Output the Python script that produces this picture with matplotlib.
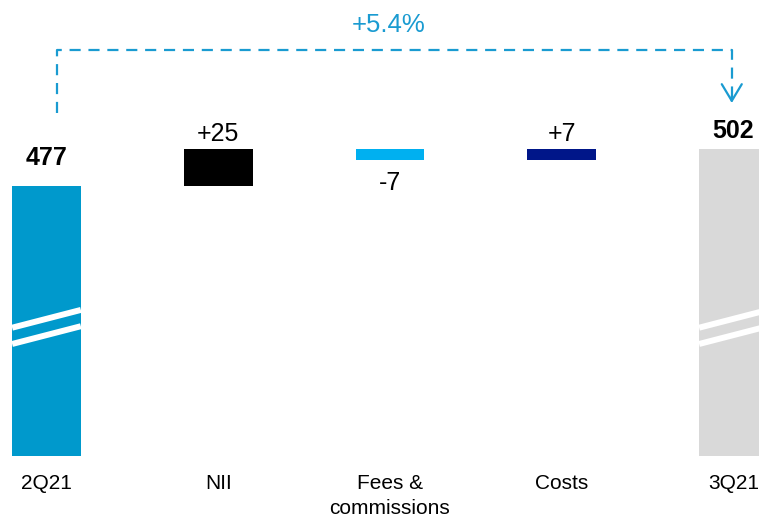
import matplotlib
matplotlib.use("Agg")
import matplotlib.pyplot as plt

plt.rcParams['font.family'] = ['Liberation Sans', 'DejaVu Sans']

# data
categories = ['2Q21', 'NII', 'Fees &\ncommissions', 'Costs', '3Q21']
start_value = 477
changes = [25, -7, 7]
end_value = 502
value_labels = ['477', '+25', '-7', '+7', '502']
growth_label = '+5.4%'

colors = ['#0099CC', '#000000', '#00B0F0', '#001689', '#D9D9D9']
accent = '#1A9BD1'
base = 295  # axis is broken, bars start here

# build waterfall bottoms / heights
bottoms = [base]
heights = [start_value - base]
level = start_value
for c in changes:
    bottoms.append(level)
    heights.append(c)
    level += c
bottoms.append(base)
heights.append(end_value - base)

x = list(range(len(categories)))
width = 0.4

fig = plt.figure(figsize=(7.59, 5.17), dpi=100)
ax = fig.add_axes([0, 0, 1, 1])
ax.bar(x, heights, bottom=bottoms, width=width, color=colors, edgecolor='none')

# break marks on the total bars
brk_mid, brk_rise, brk_gap = 382, 12, 11
for i in (0, len(x) - 1):
    for off in (brk_gap / 2, -brk_gap / 2):
        y0 = brk_mid + off - brk_rise / 2
        ax.plot([x[i] - width / 2, x[i] + width / 2], [y0, y0 + brk_rise],
                color='white', lw=4.3, solid_capstyle='butt')

# value labels
offsets = [15.5, 6, -21.5, 6, 8]
weights = ['bold', 'normal', 'normal', 'normal', 'bold']
for i, lab in enumerate(value_labels):
    top = bottoms[i] + heights[i]
    anchor = min(bottoms[i], top) if heights[i] < 0 else max(bottoms[i], top)
    ax.annotate(lab, (x[i], anchor), xytext=(0, offsets[i]), textcoords='offset points',
                ha='center', va='baseline', fontsize=18, fontweight=weights[i])

# category labels
for i, cat in enumerate(categories):
    ax.text(x[i], 0.0832, cat, transform=ax.get_xaxis_transform(), ha='center',
            va='top', fontsize=15, linespacing=1.42)

# growth bracket
bracket_y = 569
left_x, right_x = x[0] + 0.06, x[-1] - 0.01
ax.plot([left_x, left_x, right_x, right_x], [526.5, bracket_y, bracket_y, 535],
        color=accent, lw=1.6, ls=(0, (5, 3.5)))
ax.annotate('', xy=(right_x, 533.3), xytext=(right_x, 538),
            arrowprops=dict(arrowstyle='->,head_length=0.6,head_width=0.36',
                            color=accent, lw=1.6, mutation_scale=20,
                            shrinkA=0, shrinkB=0))
ax.text((x[0] + x[-1]) / 2 - 0.01, 581.5, growth_label, ha='center', va='baseline',
        fontsize=18.5, color=accent)

ax.set_xlim(-0.2707, 4.1485)
ax.set_ylim(253.6, 602.9)
ax.axis('off')

plt.savefig('out.png', dpi=100)
plt.close()
